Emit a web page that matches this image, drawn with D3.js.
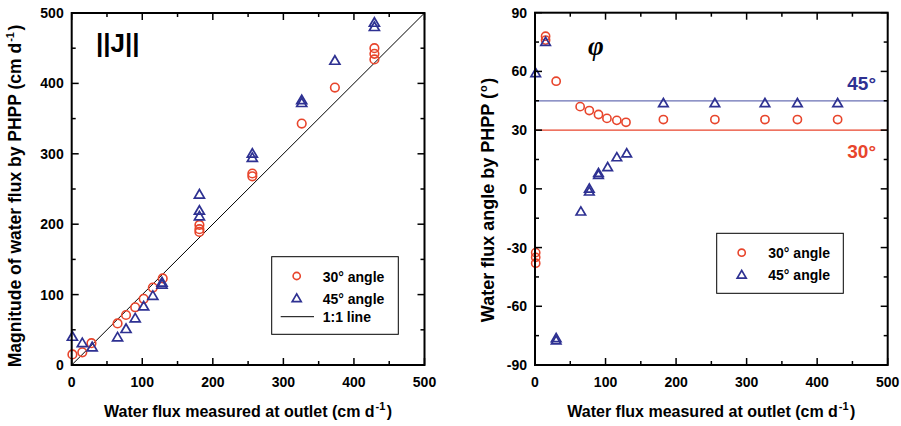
<!DOCTYPE html>
<html><head><meta charset="utf-8">
<script src="https://cdn.jsdelivr.net/npm/d3@7"></script>
<style>body{margin:0;background:#fff}svg{display:block;font-family:"Liberation Sans",Arial,sans-serif}</style>
</head><body>
<script>
// ---- data ----
const magX30 = [1,15,28,65,77,90,102,115,129,181,181,181,256,256,326,373,429,429,429];
const magY30 = [15,18,31,59,71,82,94,110,123,199,193,189,272,268,343,394,450,442,434];
const magX45 = [1,15,29,65,77,90,102,115,128,128,181,181,181,256,256,326,326,373,429,429];
const magY45 = [40,31,25,39,51,66,83,98,114,117,242,219,211,300,294,376,372,432,486,480];
const angX30 = [1,1,1,15,15,30,64,77,90,102,116,129,182,255,326,372,429];
const angY30 = [-32.6,-35,-38,78,76,55,42,40,38,36,35,34,35.4,35.4,35.4,35.4,35.4];
const angX45 = [1,15,30,30,65,77,77,90,90,103,116,130,182,255,326,372,429];
const angY45 = [59,75,-76.4,-77.6,-11.7,0,-1.5,7,8,11,16,18,43.7,43.7,43.7,43.7,43.7];
const xTicks = [0,100,200,300,400,500];
const magTicks = [0,100,200,300,400,500];
const angTicks = [-90,-60,-30,0,30,60,90];
const legendLabels = ["30° angle","45° angle","1:1 line"];
const refAngles = [30,45];

const RED = "#e8452c", BLUE = "#2e3192", BLUE_LINE = "#6a70b4";
const svg = d3.select("body").append("svg").attr("width",901).attr("height",426);

function circle(g, x, y, r){ g.append("circle").attr("cx",x).attr("cy",y).attr("r",r)
  .attr("fill","none").attr("stroke",RED).attr("stroke-width",1.6); }
function tri(g, x, y, s){ const h=s*0.85;
  g.append("path").attr("d",`M${x},${y-h*0.6}L${x+s/2},${y+h*0.4}L${x-s/2},${y+h*0.4}Z`)
  .attr("fill","none").attr("stroke",BLUE).attr("stroke-width",1.7).attr("stroke-linejoin","miter"); }

function titleText(sel, main, sup, tail, size){
  const t = sel.attr("font-size",size).attr("font-weight","bold").attr("text-anchor","middle");
  t.append("tspan").text(main);
  t.append("tspan").attr("dx",1).attr("dy",-7).attr("font-size",11).text(sup);
  t.append("tspan").attr("dx",1.5).attr("dy",7).text(tail);
  return t;
}

function frame(x, y, majorY, minorY){
  const g = svg.append("g");
  const [x0,x1]=x.range(), [y0,y1]=y.range();
  const minorX = d3.range(50,500,100);
  const tick=(a,b,c,d)=>g.append("line").attr("x1",a).attr("x2",b).attr("y1",c).attr("y2",d).attr("stroke","#000").attr("stroke-width",1.5);
  xTicks.forEach(v=>{ tick(x(v),x(v),y0,y0-7); tick(x(v),x(v),y1,y1+7); });
  minorX.forEach(v=>{ tick(x(v),x(v),y0,y0-4); tick(x(v),x(v),y1,y1+4); });
  majorY.forEach(v=>{ tick(x0,x0+7,y(v),y(v)); tick(x1,x1-7,y(v),y(v)); });
  minorY.forEach(v=>{ tick(x0,x0+4,y(v),y(v)); tick(x1,x1-4,y(v),y(v)); });
  g.append("rect").attr("x",x0).attr("y",y1).attr("width",x1-x0).attr("height",y0-y1)
    .attr("fill","none").attr("stroke","#000").attr("stroke-width",2);
  xTicks.forEach(v=> g.append("text").attr("x",x(v)).attr("y",y0+22).attr("text-anchor","middle")
    .attr("font-size",14).attr("font-weight","bold").text(v));
  majorY.forEach(v=> g.append("text").attr("x",x0-8).attr("y",y(v)+5).attr("text-anchor","end")
    .attr("font-size",14).attr("font-weight","bold").text(v));
  titleText(g.append("text").attr("x",(x0+x1)/2).attr("y",417),
    "Water flux measured at outlet (cm d","-1",")",16);
  return g;
}

// ---- left panel ----
const xL = d3.scaleLinear().domain([0,500]).range([71.7,424.5]);
const yL = d3.scaleLinear().domain([0,500]).range([365,13]);
const gL = svg.append("g");
gL.append("line").attr("x1",xL(0)).attr("y1",yL(0)).attr("x2",xL(500)).attr("y2",yL(500)).attr("stroke","#000").attr("stroke-width",1);
magX30.forEach((v,i)=>circle(gL,xL(v),yL(magY30[i]),4.3));
magX45.forEach((v,i)=>tri(gL,xL(v),yL(magY45[i]),10));
frame(xL,yL,magTicks,d3.range(50,500,100));
{
  titleText(svg.append("text").attr("transform",`translate(21,196) rotate(-90)`),
    "Magnitude of water flux by PHPP (cm d","-1",")",17.5);
  svg.append("text").attr("x",96).attr("y",52).attr("font-size",26).attr("font-weight","bold").text("||J||");
  const lg = svg.append("g");
  lg.append("rect").attr("x",271.7).attr("y",256.7).attr("width",126.6).attr("height",77.6).attr("fill","#fff").attr("stroke","#000").attr("stroke-width",1);
  circle(lg,296.7,276,3.6); tri(lg,296.7,298.5,9);
  lg.append("line").attr("x1",280.7).attr("x2",314).attr("y1",316.7).attr("y2",316.7).attr("stroke","#000").attr("stroke-width",1);
  [282,304,322].forEach((yy,i)=> lg.append("text").attr("x",322.7).attr("y",yy).attr("font-size",14).attr("font-weight","bold").text(legendLabels[i]));
}

// ---- right panel ----
const xR = d3.scaleLinear().domain([0,500]).range([535,887.7]);
const yR = d3.scaleLinear().domain([-90,90]).range([365,12.7]);
const gR = svg.append("g");
gR.append("line").attr("x1",xR(0)).attr("x2",xR(500)).attr("y1",yR(refAngles[0])).attr("y2",yR(refAngles[0])).attr("stroke",RED).attr("stroke-width",1.2);
gR.append("line").attr("x1",xR(0)).attr("x2",xR(500)).attr("y1",yR(refAngles[1])).attr("y2",yR(refAngles[1])).attr("stroke",BLUE_LINE).attr("stroke-width",1.2);
angX30.forEach((v,i)=>circle(gR,xR(v),yR(angY30[i]),4.1));
angX45.forEach((v,i)=>tri(gR,xR(v),yR(angY45[i]),9.5));
frame(xR,yR,angTicks,d3.range(-75,90,30));
{
  titleText(svg.append("text").attr("transform",`translate(494,200) rotate(-90)`),
    "Water flux angle by PHPP (","o",")",18);
  svg.append("text").attr("x",588).attr("y",55).attr("font-size",27).attr("font-weight","bold").attr("font-style","italic")
    .attr("font-family","'Liberation Serif','DejaVu Serif',serif").text("φ");
  svg.append("text").attr("x",876).attr("y",90).attr("text-anchor","end").attr("font-size",19).attr("font-weight","bold").attr("fill",BLUE).text("45°");
  svg.append("text").attr("x",876).attr("y",158).attr("text-anchor","end").attr("font-size",19).attr("font-weight","bold").attr("fill",RED).text("30°");
  const lg = svg.append("g");
  lg.append("rect").attr("x",716.7).attr("y",233.3).attr("width",126.6).attr("height",60).attr("fill","#fff").attr("stroke","#000").attr("stroke-width",1);
  circle(lg,741.7,252.7,3.6); tri(lg,741.7,275,9);
  [258,280].forEach((yy,i)=> lg.append("text").attr("x",768.3).attr("y",yy).attr("font-size",14).attr("font-weight","bold").text(legendLabels[i]));
}
</script>
</body></html>
